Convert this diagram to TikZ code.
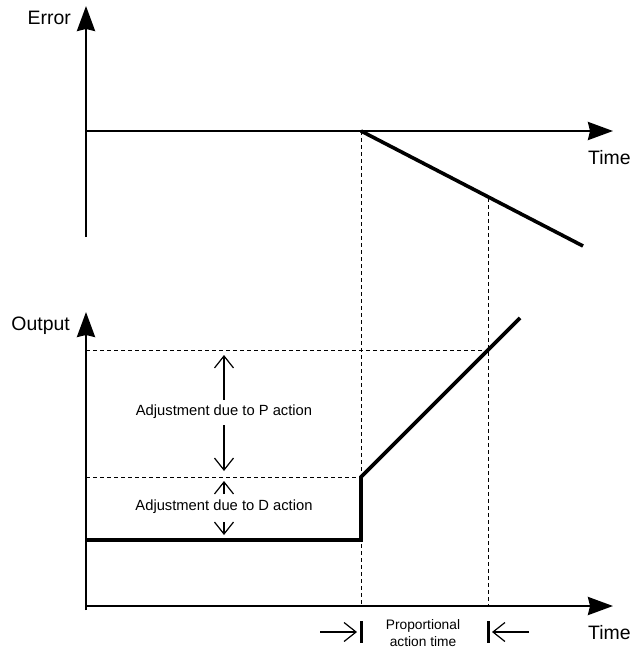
\documentclass[tikz,border=0pt]{standalone}
\usepackage{fontspec}
\setmainfont{Liberation Sans}
\usetikzlibrary{arrows.meta}
\begin{document}
\begin{tikzpicture}[x=1bp,y=-1bp,
  axis/.style={line width=2.6bp,-{Stealth[length=25bp,width=18bp,inset=2bp]}},
  plain/.style={line width=2.6bp},
  curve/.style={line width=3.6bp},
  guide/.style={line width=0.9bp,dash pattern=on 4bp off 3bp},
  dim/.style={line width=1.2bp,-{Straight Barb[length=12bp,width=19bp,line width=1.2bp]}},
  bar/.style={line width=3bp},
  biglabel/.style={font=\fontsize{19.5}{22}\selectfont,inner sep=0pt},
  smalllabel/.style={font=\fontsize{14.8}{17}\selectfont,inner sep=0pt,align=center},
  tinylabel/.style={font=\fontsize{13.8}{16.5}\selectfont,inner sep=0pt,align=center,text depth=0pt}]
\useasboundingbox (0,0) rectangle (632,650);

% ---- error plot ----
\coordinate (eo) at (86,131);
\coordinate (eb) at (86,237);
\coordinate (et) at (86,6);
\coordinate (ex) at (613,131);
\coordinate (ec) at (361,131);
\coordinate (ee) at (583,246);
\coordinate (ep) at (488,198);
\draw[plain] (eb) -- (eo);
\draw[axis] (eo) -- (et);
\draw[axis] (eo) -- (ex);
\draw[curve] (ec) -- (ee);
\node[biglabel,anchor=east] (errlbl) at (71,18) {Error};
\node[biglabel,anchor=west] (etime) at (588,158) {Time};

% ---- output plot ----
\coordinate (oo) at (86,606);
\coordinate (ot) at (86,312);
\coordinate (ox) at (613,606);
\coordinate (ob) at (86,610);
\coordinate (pa) at (86,350);
\coordinate (pb) at (488,350);
\coordinate (da) at (86,477);
\coordinate (db) at (361,477);
\coordinate (ya) at (86,540);
\coordinate (yb) at (361,540);
\coordinate (yc) at (361,477);
\coordinate (yd) at (520,318);
\coordinate (vc) at (361,606);
\coordinate (vp) at (488,606);

\draw[guide] (ec) -- (vc);
\draw[guide] (ep) -- (vp);
\draw[guide] (pa) -- (pb);
\draw[guide] (da) -- (db);

\draw[plain] (ob) -- (oo);
\draw[axis] (oo) -- (ot);
\draw[axis] (oo) -- (ox);
\draw[curve,line join=miter] (ya) -- (yb) -- (yc) -- (yd);

\node[biglabel,anchor=east] (outlbl) at (70,326) {Output};
\node[biglabel,anchor=west] (otime) at (588,633) {Time};

% ---- adjustment spans ----
\node[smalllabel] (plbl) at (224,412) {Adjustment due to P action};
\coordinate (pus) at (224,400);
\coordinate (ptop) at (224,355);
\coordinate (pds) at (224,425);
\coordinate (pbot) at (224,471);
\draw[dim] (pus) -- (ptop);
\draw[dim] (pds) -- (pbot);

\node[smalllabel] (dlbl) at (224,507) {Adjustment due to D action};
\coordinate (dus) at (224,494);
\coordinate (dtop) at (224,481);
\coordinate (dds) at (224,522);
\coordinate (dbot) at (224,535);
\draw[dim] (dus) -- (dtop);
\draw[dim] (dds) -- (dbot);

% ---- proportional action time ----
\coordinate (b1t) at (361,621);
\coordinate (b1b) at (361,643);
\coordinate (b2t) at (488,621);
\coordinate (b2b) at (488,643);
\draw[bar] (b1t) -- (b1b);
\draw[bar] (b2t) -- (b2b);
\coordinate (l1) at (320,632);
\coordinate (l2) at (357,632);
\coordinate (r1) at (529,632);
\coordinate (r2) at (492,632);
\draw[dim] (l1) -- (l2);
\draw[dim] (r1) -- (r2);
\node[tinylabel] (patlbl) at (423,633) {Proportional\\action time};
\end{tikzpicture}
\end{document}
